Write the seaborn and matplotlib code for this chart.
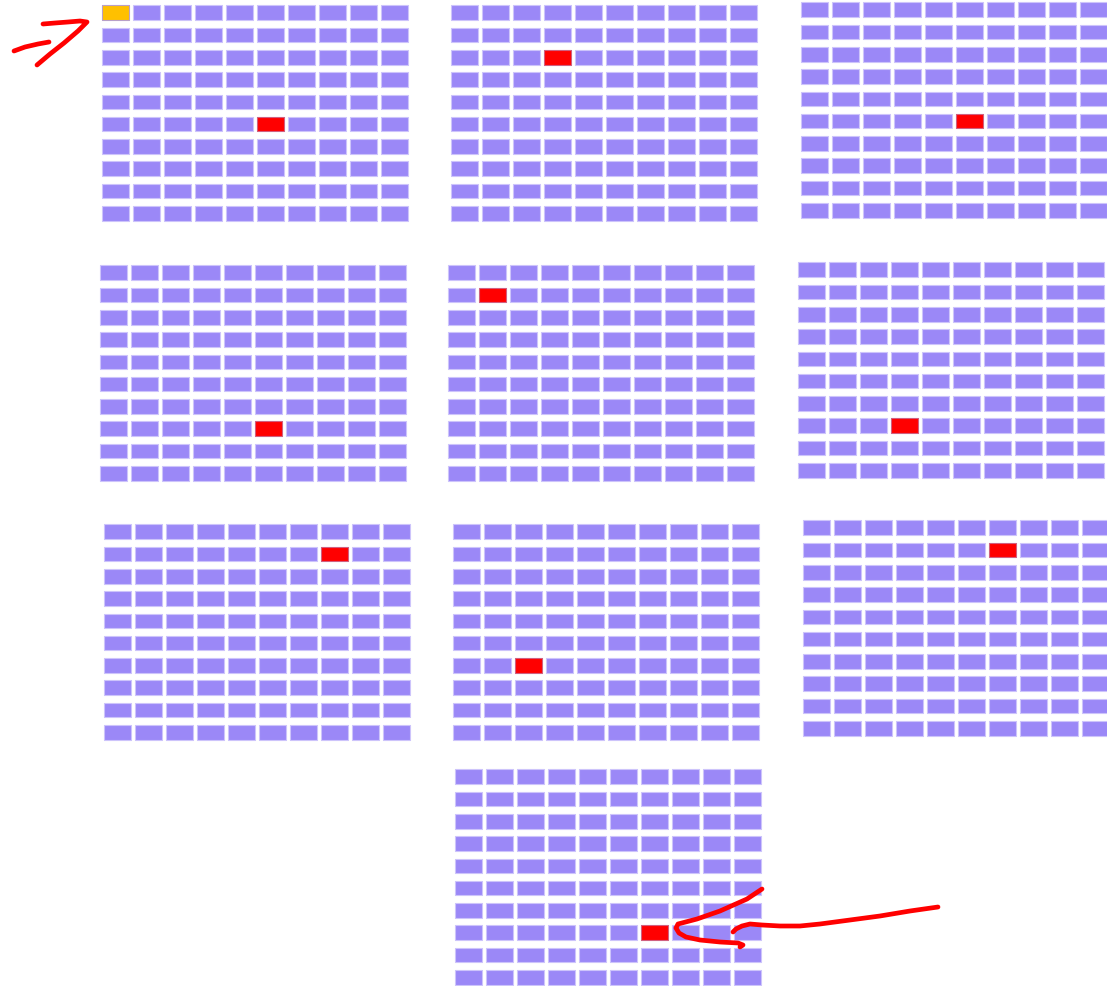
import numpy as np
import pandas as pd
import matplotlib.pyplot as plt
from matplotlib.path import Path
import seaborn as sns

# 10 grids of 10x10 cells, one highlighted (red) cell in each
n_rows = 10
n_cols = 10
target_rows = [5, 2, 5, 7, 1, 7, 1, 6, 1, 7]
target_cols = [5, 3, 5, 5, 1, 3, 7, 2, 6, 6]
start_grid = 0
start_cell = (0, 0)

# top-left pixel of the first cell of each grid on the page
grid_left = [102, 451, 801, 100, 448, 798, 104, 453, 803, 455]
grid_top = [6, 6, 3, 266, 266, 263, 525, 525, 521, 770]
pitch_x, pitch_y = 31.0, 22.28
gap_x, gap_y = 4.0, 6.8

# hand drawn red strokes (page pixels)
stroke_a_x = [14, 25, 38, 49]
stroke_a_y = [52, 48, 45, 43]
stroke_b_x = [43, 55, 68, 80, 87, 78, 64, 50, 37]
stroke_b_y = [25, 24, 23, 22, 23, 32, 44, 55, 66]
stroke_c_x = [938, 910, 880, 850, 820, 800, 780, 762, 750, 742, 736, 733]
stroke_c_y = [908, 912, 917, 921, 925, 927, 927, 926, 925, 927, 930, 933]
stroke_d_x = [762, 747, 720, 697, 678, 676, 679, 686, 700, 720, 738, 743, 740]
stroke_d_y = [890, 900, 912, 920, 925, 929, 934, 938, 941, 943, 944, 946, 948]

W, H = 1107, 987
sns.set_style("white")
fig = plt.figure(figsize=(W / 100, H / 100), dpi=100)

palette = {"cell": "#9b88f7", "target": "#ff0000", "start": "#ffc000"}
edges = {"cell": "#cdc4fb", "target": "#d06080", "start": "#b8a0c8"}

# rectangular marker, 27 x 15.5 px
rect = Path([(-1, -0.56), (1, -0.56), (1, 0.56), (-1, 0.56), (-1, -0.56)],
            [Path.MOVETO, Path.LINETO, Path.LINETO, Path.LINETO, Path.CLOSEPOLY])

rr, cc = np.meshgrid(np.arange(n_rows), np.arange(n_cols), indexing="ij")
for g in range(len(target_rows)):
    df = pd.DataFrame({"row": rr.ravel(), "col": cc.ravel()})
    df["status"] = "cell"
    df.loc[(df.row == target_rows[g]) & (df.col == target_cols[g]), "status"] = "target"
    if g == start_grid:
        df.loc[(df.row == start_cell[0]) & (df.col == start_cell[1]), "status"] = "start"
    df["x"] = df["col"] + 0.5
    df["y"] = df["row"] + 0.5

    left = grid_left[g] - gap_x / 2
    top = grid_top[g] - gap_y / 2
    ax = fig.add_axes([left / W, 1 - (top + n_rows * pitch_y) / H,
                       n_cols * pitch_x / W, n_rows * pitch_y / H])
    sns.scatterplot(data=df, x="x", y="y", hue="status", palette=palette,
                    marker=rect, s=352, linewidth=0.8,
                    edgecolor=df["status"].map(edges).tolist(),
                    legend=False, ax=ax, clip_on=False)
    ax.set_xlim(0, n_cols)
    ax.set_ylim(n_rows, 0)
    ax.axis("off")

# overlay for the hand drawn arrows
over = fig.add_axes([0, 0, 1, 1])
over.set_xlim(0, W)
over.set_ylim(H, 0)
over.axis("off")
over.patch.set_alpha(0)
for xs, ys in [(stroke_a_x, stroke_a_y), (stroke_b_x, stroke_b_y),
               (stroke_c_x, stroke_c_y), (stroke_d_x, stroke_d_y)]:
    over.plot(xs, ys, color="#ff0000", lw=3.4, solid_capstyle="round", solid_joinstyle="round")

fig.savefig("out.png", dpi=100)
